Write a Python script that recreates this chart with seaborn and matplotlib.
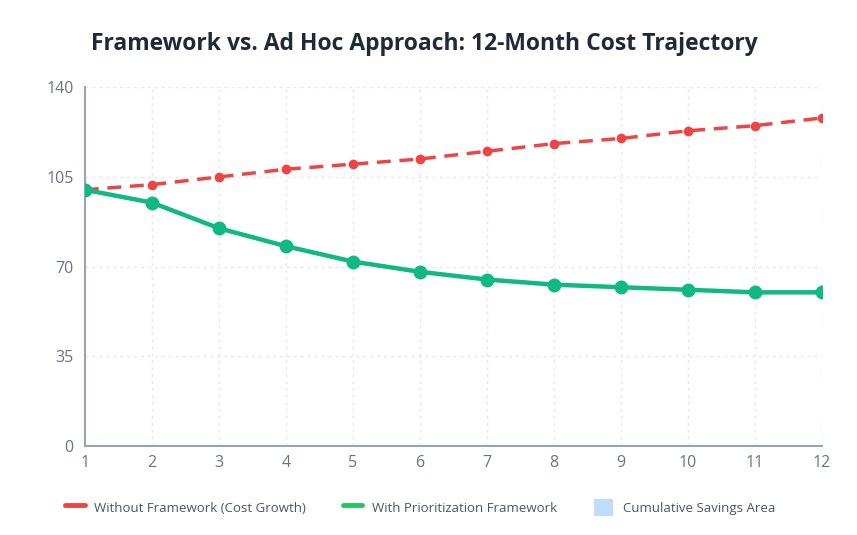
import matplotlib
matplotlib.use("Agg")
import matplotlib.pyplot as plt
import seaborn as sns
import pandas as pd
from matplotlib.lines import Line2D
from matplotlib.patches import Patch

months = list(range(1, 13))
without_framework = [100, 102, 105, 108, 110, 112, 115, 118, 120, 123, 125, 128]
with_framework = [100, 95, 85, 78, 72, 68, 65, 63, 62, 61, 60, 60]
y_ticks = [0, 35, 70, 105, 140]

red = "#ef4444"
green = "#10b981"
axis_grey = "#9ca3af"

df = pd.DataFrame({"month": months, "without": without_framework, "with": with_framework})

sns.set_theme(style="white")
plt.rcParams["font.family"] = ["Open Sans", "DejaVu Sans"]

fig = plt.figure(figsize=(8.57, 5.35), dpi=100)
ax = fig.add_axes([0.099, 0.166, 0.86, 0.671])

sns.lineplot(data=df, x="month", y="without", ax=ax, color=red, linewidth=2.5,
             linestyle=(0, (4, 2.5)), marker="o", markersize=7, markeredgewidth=0,
             zorder=3)
sns.lineplot(data=df, x="month", y="with", ax=ax, color=green, linewidth=3.2,
             marker="o", markersize=10, markeredgewidth=0, zorder=4)

ax.set_xlim(1, 12)
ax.set_ylim(0, 140)
ax.set_xticks(months)
ax.set_yticks(y_ticks)
ax.set_xlabel("")
ax.set_ylabel("")
ax.grid(True, color="#e5e7eb", linestyle=(0, (2, 3)), linewidth=1)
for side in ["top", "right"]:
    ax.spines[side].set_visible(False)
for side in ["left", "bottom"]:
    ax.spines[side].set_color(axis_grey)
    ax.spines[side].set_linewidth(1.5)
ax.tick_params(axis="both", colors=axis_grey, length=5, width=1.2,
               labelcolor="#6b7280", labelsize=11.5, pad=1)
ax.tick_params(axis="y", pad=3)

fig.text(0.495, 0.918, "Framework vs. Ad Hoc Approach: 12-Month Cost Trajectory",
         ha="center", va="center", fontsize=16.5, fontweight="bold", color="#1f2937")

handles = [
    Line2D([0], [0], color=red, linewidth=3.5, solid_capstyle="round"),
    Line2D([0], [0], color="#22c55e", linewidth=3.5, solid_capstyle="round"),
    Patch(facecolor="#bfdbfe", edgecolor="none"),
]
labels = ["Without Framework (Cost Growth)", "With Prioritization Framework",
          "Cumulative Savings Area"]
leg = fig.legend(handles, labels, loc="center", bbox_to_anchor=(0.49, 0.052), ncol=3,
                 frameon=False, fontsize=9.5, handlelength=1.5, handleheight=1.6,
                 columnspacing=2.8, handletextpad=0.7)
for t in leg.get_texts():
    t.set_color("#4b5563")

fig.savefig("out.png", dpi=100)
